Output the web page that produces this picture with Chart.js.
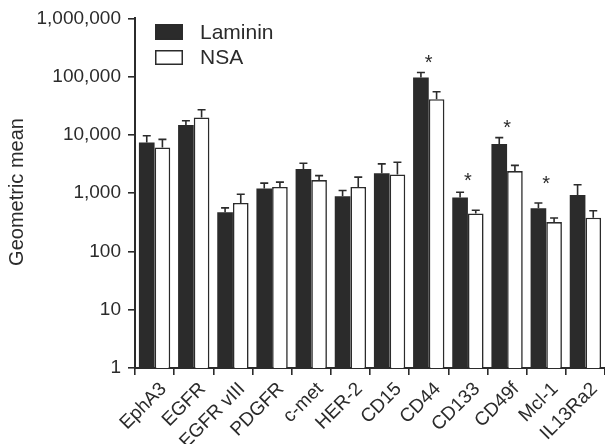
<!DOCTYPE html>
<html>
<head>
<meta charset="utf-8">
<script src="https://cdn.jsdelivr.net/npm/chart.js@4/dist/chart.umd.min.js"></script>
<style>
html,body{margin:0;padding:0;background:#fff;}
#wrap{width:605px;height:444px;}
</style>
</head>
<body>
<div id="wrap"><canvas id="c" width="605" height="444"></canvas></div>
<script>
const categories = ['EphA3','EGFR','EGFR vIII','PDGFR','c-met','HER-2','CD15','CD44','CD133','CD49f','Mcl-1','IL13Ra2'];
const laminin    = [7400, 14800, 470, 1200, 2600, 890, 2200, 97000, 840, 7000, 550, 930];
const lamininSem = [2300, 2700, 90, 290, 670, 220, 990, 21000, 200, 2000, 130, 470];
const nsa        = [6100, 20000, 680, 1280, 1680, 1280, 2100, 41000, 450, 2400, 320, 380];
const nsaSem     = [2300, 7000, 280, 270, 320, 610, 1300, 14000, 60, 600, 55, 120];
const sigAt      = [null, null, null, null, null, null, null, 206000, 1940, 16100, 1745, null];
const yTicks     = [1, 10, 100, 1000, 10000, 100000, 1000000];
const seriesNames = ['Laminin', 'NSA'];
const yTitle = 'Geometric mean';

const INK = '#2b2b2b';
const FONT = '"Liberation Sans", Arial, Helvetica, sans-serif';

const extrasPlugin = {
  id: 'extras',
  afterDatasetsDraw(chart) {
    const ctx = chart.ctx;
    const y = chart.scales.y, x = chart.scales.x;
    const sems = [lamininSem, nsaSem];
    const vals = [laminin, nsa];
    ctx.save();
    ctx.strokeStyle = INK;
    ctx.lineWidth = 1.6;
    chart.data.datasets.forEach((ds, di) => {
      const meta = chart.getDatasetMeta(di);
      meta.data.forEach((bar, j) => {
        const top = y.getPixelForValue(vals[di][j] + sems[di][j]);
        const base = bar.y;
        ctx.beginPath();
        ctx.moveTo(bar.x, base);
        ctx.lineTo(bar.x, top);
        ctx.moveTo(bar.x - 4, top);
        ctx.lineTo(bar.x + 4, top);
        ctx.stroke();
      });
    });
    ctx.fillStyle = INK;
    ctx.font = '20px ' + FONT;
    ctx.textAlign = 'center';
    ctx.textBaseline = 'alphabetic';
    sigAt.forEach((v, j) => {
      if (v == null) return;
      const px = x.getPixelForValue(j);
      const py = y.getPixelForValue(v);
      ctx.fillText('*', px, py + 11);
    });
    ctx.restore();
  },
  afterDraw(chart) {
    const ctx = chart.ctx;
    ctx.save();
    const ds = chart.data.datasets;
    const items = [[24, 40], [50, 65]];
    ctx.font = '21px ' + FONT;
    ctx.textBaseline = 'middle';
    ctx.textAlign = 'left';
    ds.forEach((d, i) => {
      const [y0, y1] = items[i];
      ctx.fillStyle = d.backgroundColor;
      ctx.fillRect(155, y0, 28, y1 - y0);
      ctx.strokeStyle = INK;
      ctx.lineWidth = 1.5;
      ctx.strokeRect(155.75, y0 + 0.75, 26.5, y1 - y0 - 1.5);
      ctx.fillStyle = INK;
      ctx.fillText(d.label, 200, (y0 + y1) / 2 + 1);
    });
    ctx.translate(17, 192);
    ctx.rotate(-Math.PI / 2);
    ctx.font = '20px ' + FONT;
    ctx.textAlign = 'center';
    ctx.textBaseline = 'middle';
    ctx.fillStyle = INK;
    ctx.fillText(yTitle, 0, 0);
    ctx.restore();
  }
};

new Chart(document.getElementById('c'), {
  type: 'bar',
  data: {
    labels: categories,
    datasets: [
      { label: seriesNames[0], data: laminin, backgroundColor: INK, borderColor: INK, borderWidth: 0, categoryPercentage: 0.8, barPercentage: 1.0 },
      { label: seriesNames[1], data: nsa, backgroundColor: '#ffffff', borderColor: INK, borderWidth: 1.6, categoryPercentage: 0.8, barPercentage: 1.0 }
    ]
  },
  options: {
    responsive: false,
    animation: false,
    devicePixelRatio: 1,
    layout: { padding: { top: 16, left: 0, right: 0, bottom: 0 } },
    plugins: { legend: { display: false }, tooltip: { enabled: false }, title: { display: false } },
    scales: {
      x: {
        grid: { display: true, drawOnChartArea: false, drawTicks: true, tickLength: 7, color: INK, lineWidth: 1.6, offset: true },
        border: { display: true, color: INK, width: 2 },
        ticks: { color: INK, font: { family: FONT, size: 19 }, minRotation: 45, maxRotation: 45, autoSkip: false, padding: 3, labelOffset: 9 },
        afterFit(s) { s.height = 76; }
      },
      y: {
        type: 'logarithmic',
        min: 1, max: 1000000,
        grid: { display: true, drawOnChartArea: false, drawTicks: true, tickLength: 7, color: INK, lineWidth: 1.6 },
        border: { display: true, color: INK, width: 2 },
        ticks: { color: INK, font: { family: FONT, size: 19 }, padding: 7, callback: (v) => Number(v).toLocaleString('en-US') },
        afterBuildTicks(s) { s.ticks = yTicks.map(v => ({ value: v })); },
        afterFit(s) { s.width = 135; }
      }
    }
  },
  plugins: [extrasPlugin]
});
</script>
</body>
</html>
